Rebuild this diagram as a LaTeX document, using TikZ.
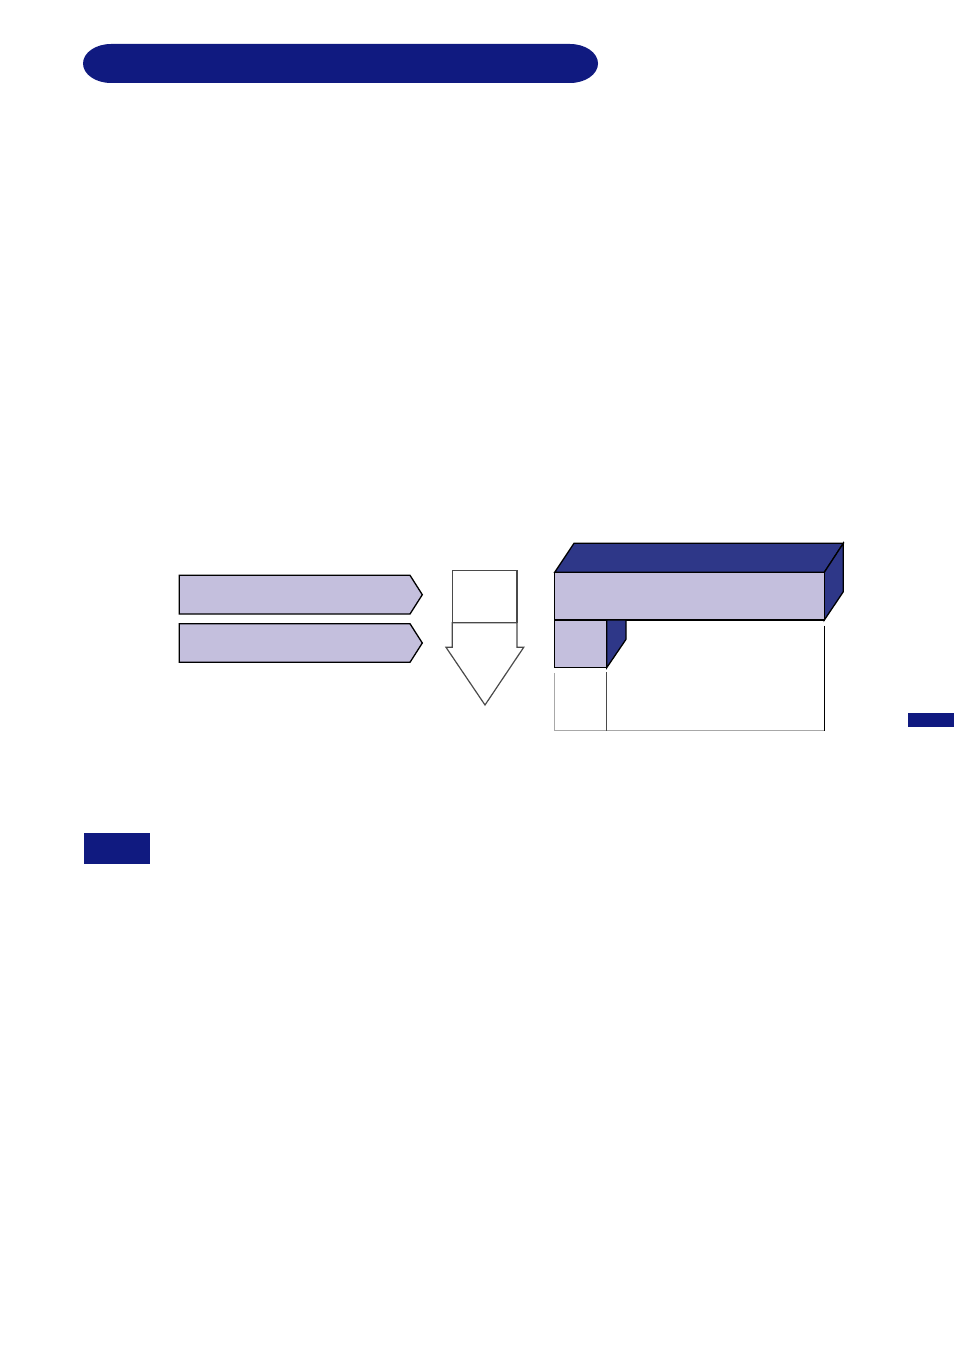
\documentclass[tikz,border=0pt]{standalone}
\usetikzlibrary{calc}
\definecolor{navy}{HTML}{101A80}
\definecolor{lav}{HTML}{C4BFDD}
\definecolor{side}{HTML}{2E3788}
\definecolor{dgray}{HTML}{4A4A4A}
\definecolor{lgray}{HTML}{A8A8A8}
\tikzset{
  lavshape/.style={fill=lav, draw=black, line width=1.3pt, line join=miter},
  sideshape/.style={fill=side, draw=black, line width=1.3pt, line join=miter},
  outline/.style={draw=dgray, line width=1.2pt, fill=white},
  bar/.style={fill=navy}
}
\begin{document}
\begin{tikzpicture}[x=1pt,y=-1pt]
\useasboundingbox (0,0) rectangle (954,1351);
% title pill
\fill[bar] (111,44) -- (570,44) arc[start angle=-90,end angle=90,x radius=28,y radius=19.5]
  -- (111,83) arc[start angle=90,end angle=270,x radius=28,y radius=19.5] -- cycle;
% small label bar
\fill[bar] (84,833) rectangle (150,864);
% side tab
\fill[bar] (908,713) rectangle (954,727);
% chevron bars
\draw[lavshape] (179.3,575.3) -- (410,575.3) -- (422.3,594.7) -- (410,614) -- (179.3,614) -- cycle;
\draw[lavshape] (179.3,623.7) -- (410,623.7) -- (422.3,643) -- (410,662.3) -- (179.3,662.3) -- cycle;
% down arrow with box
\draw[outline] (452.3,570.7) rectangle (517,622.7);
\draw[outline] (452.3,622.7) -- (517,622.7) -- (517,647.3) -- (523.7,647.3) -- (485,705) -- (446,647.3) -- (452.3,647.3) -- cycle;
% 3D block
\draw[sideshape] (554.7,572.3) -- (574,543.3) -- (843.3,543.3) -- (824.3,572.3) -- cycle;
\draw[sideshape] (824.3,572.3) -- (843.3,543.3) -- (843.3,591.7) -- (824.3,620) -- cycle;
\draw[lavshape] (554.7,572.3) rectangle (824.3,620);
\draw[sideshape] (606.7,620) -- (626,620) -- (626,639.3) -- (606.7,667.7) -- cycle;
\draw[lavshape] (554.7,620) rectangle (606.7,667.7);
% lines below
\draw[lgray, line width=1.1pt] (554.7,673.3) -- (554.7,730.7) -- (824.3,730.7);
\draw[dgray, line width=1.1pt] (606.7,672.3) -- (606.7,730.7);
\draw[black, line width=1.1pt] (824.3,625.7) -- (824.3,730.7);
\end{tikzpicture}
\end{document}
